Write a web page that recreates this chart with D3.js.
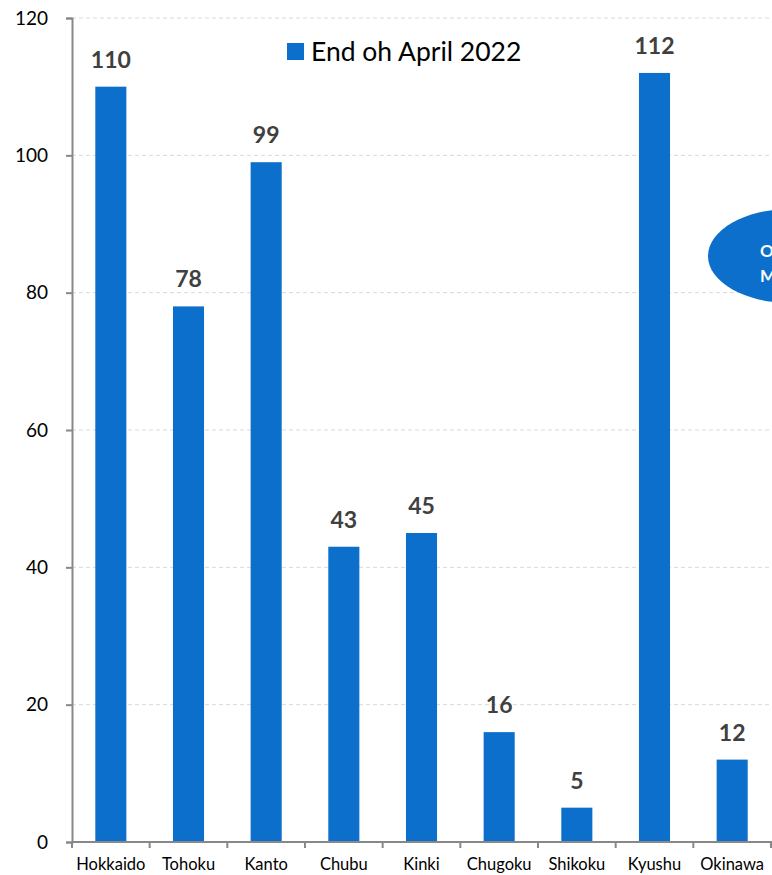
<!DOCTYPE html>
<html>
  <head>
    <script src="https://cdn.jsdelivr.net/npm/d3@7"></script>
    <style>
      body { margin: 0; background: #fff; }
      svg { display: block; font-family: Lato, "Open Sans", sans-serif; }
    </style>
  </head>
  <body>
    <svg width="772" height="875" id="mainsvg"></svg>
    <script>
      const regions = ['Hokkaido', 'Tohoku', 'Kanto', 'Chubu', 'Kinki', 'Chugoku', 'Shikoku', 'Kyushu', 'Okinawa'];
      const counts = [110, 78, 99, 43, 45, 16, 5, 112, 12];
      const yTicks = [0, 20, 40, 60, 80, 100, 120];
      const seriesName = 'End oh April 2022';
      const calloutLines = ['Okinawa', 'Mainland'];

      const data = regions.map((r, i) => ({name: r, value: counts[i]}));

      const svg = d3.select('#mainsvg');
      const width = +svg.attr('width');
      const height = +svg.attr('height');
      const margin = {top: 18, right: 1, bottom: 33, left: 72};
      const innerWidth = width - margin.left - margin.right;
      const innerHeight = height - margin.top - margin.bottom;
      const blue = '#0b6fcb';

      const g = svg.append('g')
        .attr('transform', `translate(${margin.left}, ${margin.top})`);

      const xScale = d3.scaleBand()
        .domain(regions)
        .range([0, innerWidth])
        .paddingInner(0.6)
        .paddingOuter(0.3);

      const yScale = d3.scaleLinear()
        .domain([0, 120])
        .range([innerHeight, 0]);

      // dashed grid lines
      g.append('g').selectAll('line')
        .data(yTicks.filter(t => t > 0))
        .join('line')
        .attr('x1', 0).attr('x2', innerWidth + margin.right)
        .attr('y1', d => yScale(d)).attr('y2', d => yScale(d))
        .attr('stroke', '#d9d9d9')
        .attr('stroke-dasharray', '4,3');

      // bars
      g.append('g').selectAll('rect')
        .data(data)
        .join('rect')
        .attr('x', d => xScale(d.name))
        .attr('y', d => yScale(d.value))
        .attr('width', xScale.bandwidth())
        .attr('height', d => innerHeight - yScale(d.value))
        .attr('fill', blue);

      // value labels
      g.append('g').selectAll('text')
        .data(data)
        .join('text')
        .attr('x', d => xScale(d.name) + xScale.bandwidth() / 2)
        .attr('y', d => yScale(d.value) - 19)
        .attr('text-anchor', 'middle')
        .attr('font-size', 23)
        .attr('font-weight', 'bold')
        .attr('fill', '#404040')
        .text(d => d.value);

      // y axis
      const yAxis = d3.axisLeft(yScale).tickValues(yTicks).tickSize(6).tickPadding(18);
      const yAxisGroup = g.append('g').call(yAxis);
      yAxisGroup.selectAll('.tick text').attr('font-size', 19).attr('fill', '#000')
        .attr('font-family', 'Lato, "Open Sans", sans-serif');

      // x axis with ticks on band boundaries
      const step = xScale.step();
      const xAxisGroup = g.append('g').attr('transform', `translate(0, ${innerHeight})`);
      xAxisGroup.append('line')
        .attr('x1', 0).attr('x2', innerWidth + margin.right)
        .attr('stroke', '#888').attr('stroke-width', 2);
      xAxisGroup.selectAll('.btick')
        .data(d3.range(regions.length + 1))
        .join('line')
        .attr('class', 'btick')
        .attr('x1', i => i * step).attr('x2', i => i * step)
        .attr('y1', 0).attr('y2', 6)
        .attr('stroke', '#888').attr('stroke-width', 2);
      xAxisGroup.selectAll('.xlabel')
        .data(regions)
        .join('text')
        .attr('class', 'xlabel')
        .attr('x', d => xScale(d) + xScale.bandwidth() / 2)
        .attr('y', 28)
        .attr('text-anchor', 'middle')
        .attr('font-size', 16.5)
        .attr('fill', '#000')
        .text(d => d);

      yAxisGroup.select('.domain').attr('stroke', '#888').attr('stroke-width', 2);
      yAxisGroup.selectAll('.tick line').attr('stroke', '#888').attr('stroke-width', 2);

      // legend
      const legend = svg.append('g').attr('transform', 'translate(287, 43)');
      legend.append('rect').attr('width', 17).attr('height', 17).attr('fill', blue);
      legend.append('text').attr('x', 24).attr('y', 18)
        .attr('font-size', 26.5).attr('fill', '#000').text(seriesName);

      // callout ellipse, cut off by right edge
      const callout = svg.append('g');
      callout.append('ellipse')
        .attr('cx', 790).attr('cy', 256).attr('rx', 82).attr('ry', 47)
        .attr('fill', blue);
      callout.selectAll('text')
        .data(calloutLines)
        .join('text')
        .attr('x', 760)
        .attr('y', (d, i) => 257 + i * 25)
        .attr('font-size', 17)
        .attr('font-weight', 'bold')
        .attr('fill', '#fff')
        .text(d => d);
    </script>
  </body>
</html>
